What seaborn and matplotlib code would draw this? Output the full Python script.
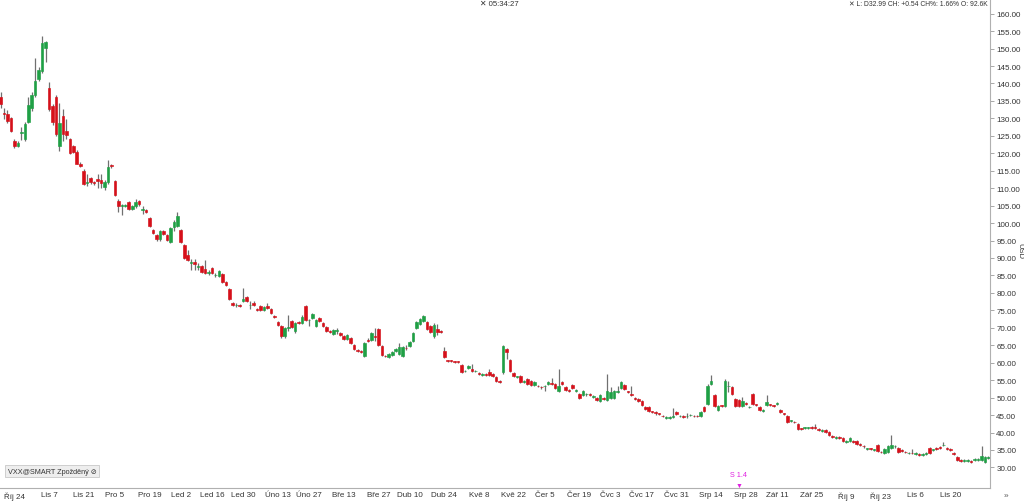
import numpy as np
import pandas as pd
import matplotlib
matplotlib.use("Agg")
import matplotlib.pyplot as plt
import seaborn as sns

# ---------------- data ----------------
opens = [136.1,131.5,131.3,130.0,123.6,122.1,125.8,124.1,129.0,133.0,136.7,141.3,143.6,150.2,138.7,133.6,136.1,122.1,130.7,126.4,124.1,122.1,120.4,117.0,115.0,
 111.4,112.9,111.7,112.6,112.3,110.3,111.7,116.6,112.0,106.3,105.0,105.0,106.0,104.0,105.0,106.3,103.8,103.7,101.4,98.0,96.6,95.4,97.7,
 96.6,94.6,98.8,99.2,98.0,93.7,90.9,88.7,88.9,87.4,87.7,86.8,85.6,87.1,85.0,84.8,85.4,83.1,81.1,77.1,76.4,76.5,77.7,
 78.8,76.4,77.1,75.4,76.2,75.0,76.2,75.3,73.4,71.7,70.5,67.7,69.9,72.0,69.0,71.7,71.4,76.2,72.1,72.8,70.5,72.8,71.4,
 70.2,69.0,68.2,69.2,68.5,67.6,66.8,67.1,65.1,63.5,63.2,61.9,66.5,66.5,67.5,69.6,64.8,62.0,61.6,62.2,63.4,62.5,61.9,
 64.3,64.8,66.2,70.0,71.1,72.0,71.7,70.5,67.7,69.6,69.1,63.4,60.6,60.6,60.3,60.3,59.3,57.5,58.5,58.1,57.5,57.1,56.5,
 56.8,57.3,56.8,55.9,54.6,57.3,63.9,60.8,57.0,55.8,56.2,54.4,55.3,54.8,53.6,53.4,53.1,53.2,53.9,54.0,53.9,51.9,54.5,
 53.0,52.2,53.5,51.9,50.9,50.7,50.9,51.0,50.2,50.0,49.0,50.0,49.2,50.0,50.0,51.5,52.8,53.6,51.7,51.0,50.0,49.5,49.0,
 47.3,47.3,46.0,45.7,45.4,44.8,44.1,44.1,44.4,45.9,44.6,44.6,44.6,44.9,44.8,44.8,44.7,47.3,48.2,53.9,50.7,46.5,47.7,
 47.6,53.2,53.0,49.5,49.2,47.6,48.3,47.2,50.9,48.0,47.3,46.1,47.9,48.0,47.7,48.3,46.5,45.4,44.7,43.2,43.1,42.4,41.1,
 41.2,41.2,41.6,41.4,40.9,40.4,40.8,40.2,39.1,38.5,38.7,38.3,37.4,37.5,37.6,37.5,36.7,36.2,35.2,35.4,34.9,36.4,34.5,
 34.1,34.4,35.5,36.0,35.5,35.0,34.5,34.0,34.2,33.9,33.7,33.6,33.9,35.6,34.9,35.5,35.8,36.3,35.6,35.3,34.1,33.0,32.1,31.9,31.9,31.7,32.1,32.0,32.2,31.6,32.7]
closes = [134.1,131.2,129.3,126.4,122.1,123.0,126.2,128.4,133.8,136.7,140.7,143.9,151.6,151.9,132.7,129.0,125.5,128.7,125.5,125.2,120.1,120.4,117.0,116.4,111.2,
 111.7,111.7,111.4,112.0,111.4,111.7,116.1,116.3,108.0,104.9,105.3,105.3,104.0,105.0,106.0,105.5,104.0,103.2,99.1,97.1,95.4,97.7,96.8,
 95.1,98.5,100.3,102.0,94.6,90.0,89.5,88.9,88.3,87.7,86.0,85.7,85.8,85.7,85.2,86.2,83.1,82.2,78.3,76.5,76.6,76.2,78.3,
 77.7,76.6,76.5,75.2,75.0,76.0,75.6,74.2,73.0,70.8,67.7,70.0,70.1,70.2,71.4,71.4,73.1,72.2,72.3,73.9,72.2,72.0,70.5,
 69.0,68.8,69.3,69.4,67.9,66.8,67.9,65.6,63.9,63.3,63.0,65.6,66.2,68.5,67.3,65.1,62.2,61.8,62.5,63.1,63.9,64.5,64.5,
 64.1,66.0,68.5,71.7,72.5,73.4,69.7,68.8,70.8,68.8,68.9,61.6,60.4,60.4,60.1,60.1,57.3,57.7,59.0,57.6,57.7,56.9,56.8,
 56.5,56.5,56.2,54.8,54.4,64.8,63.1,57.6,56.2,56.0,54.5,54.6,53.9,53.6,54.5,53.2,52.9,53.4,54.5,53.8,52.8,53.3,53.9,
 52.2,51.9,52.8,52.1,50.0,51.9,51.1,50.8,50.4,49.2,50.7,49.5,51.9,51.6,51.9,51.7,54.5,52.5,51.5,50.8,49.5,49.0,47.9,
 46.7,46.2,45.8,45.5,45.2,44.6,44.3,44.3,44.6,45.3,44.8,44.4,44.8,45.1,44.6,44.6,45.9,46.2,53.3,54.8,47.6,47.6,47.5,
 54.8,53.4,51.0,47.6,47.6,49.0,48.1,47.4,48.2,47.8,46.5,46.3,48.7,47.8,47.5,48.5,45.9,45.2,43.0,43.4,42.9,41.0,40.9,
 41.4,41.4,41.4,41.2,40.7,40.6,40.2,39.3,38.8,38.7,38.5,37.5,37.6,38.3,37.4,36.6,36.5,36.0,35.4,35.2,35.1,34.7,34.3,
 35.3,36.0,36.4,36.2,34.4,34.8,34.3,34.2,34.0,34.1,33.5,33.8,34.1,34.1,35.1,35.2,35.6,36.5,35.4,34.9,33.9,32.2,31.9,32.1,32.1,31.5,32.3,32.4,33.4,33.0,32.99]
highs = [137.5,133.0,132.5,130.5,124.2,123.5,127.5,129.0,136.0,137.5,147.3,144.6,153.7,152.2,140.4,134.0,136.6,134.4,132.8,129.7,124.5,122.5,121.0,117.4,115.5,
 114.0,113.3,112.0,114.0,114.0,112.3,118.0,117.0,112.3,106.8,105.6,105.6,106.3,105.3,107.0,106.7,104.8,104.0,101.8,98.3,97.0,98.0,98.0,
 97.0,99.0,101.0,103.2,98.3,94.0,92.4,89.8,89.8,88.7,88.0,89.3,86.7,87.4,85.6,86.5,85.7,83.4,81.4,77.4,77.0,76.8,81.4,
 79.2,77.8,77.8,75.8,76.5,76.3,77.1,75.6,73.7,72.0,70.8,70.3,73.7,72.3,71.7,72.0,73.7,76.5,72.6,74.2,72.5,73.1,71.7,
 70.5,69.3,69.6,70.0,68.8,67.9,68.2,67.4,65.4,63.8,63.5,66.0,67.2,68.8,70.0,69.9,65.1,62.3,62.8,63.4,64.2,65.5,64.8,
 65.0,66.3,68.8,72.0,72.8,73.7,72.0,70.8,71.4,71.0,69.4,64.5,60.9,60.9,60.6,60.6,59.6,58.0,59.3,59.5,58.0,57.4,57.1,
 57.1,58.2,57.1,56.2,54.9,65.1,64.2,61.1,57.3,56.3,56.5,54.9,55.6,55.1,54.8,53.7,53.4,53.7,54.8,55.5,54.2,58.1,54.8,
 53.3,52.5,53.8,52.4,51.2,52.2,51.4,51.3,50.7,50.3,51.0,50.3,56.8,53.0,52.2,53.2,54.8,53.9,52.0,53.2,50.3,49.8,49.3,
 47.6,47.6,46.3,46.3,45.7,45.1,44.6,44.6,47.0,46.3,45.1,44.9,45.5,45.4,45.1,45.1,46.2,47.6,53.8,56.5,51.0,47.9,48.0,
 55.3,54.8,53.3,49.8,49.5,50.1,48.6,47.7,51.2,48.3,47.6,46.6,50.8,48.3,48.0,48.8,46.8,45.7,45.0,43.7,43.4,42.7,41.4,
 41.7,41.7,41.9,42.5,41.2,40.9,41.1,40.5,39.4,39.0,39.0,38.6,37.9,38.6,37.9,37.8,37.0,36.5,35.7,35.7,35.4,36.7,34.8,
 35.6,36.3,39.2,36.5,35.8,35.3,34.8,34.5,35.2,34.4,34.0,34.1,34.4,35.9,35.4,35.8,36.1,37.2,35.9,35.6,34.4,33.3,32.4,32.4,32.4,32.0,32.6,32.7,36.0,33.3,33.2]
lows = [133.0,129.8,128.8,126.0,121.5,121.8,123.8,123.5,128.8,132.0,136.0,140.6,143.0,146.2,132.0,128.2,125.0,120.6,123.5,124.0,119.8,120.0,116.8,116.0,111.0,
 110.6,111.2,111.0,110.0,110.0,109.6,111.2,115.8,107.8,103.3,102.3,104.7,103.7,103.8,104.4,105.0,102.5,102.8,98.8,96.8,95.0,95.0,96.5,
 94.8,94.3,97.8,98.8,94.3,89.7,89.0,86.6,86.6,86.6,85.7,85.4,85.0,85.4,84.6,84.5,82.9,82.0,78.0,76.2,76.0,75.9,77.4,
 77.4,75.3,76.2,74.9,74.8,74.8,75.3,73.9,72.8,70.5,67.2,67.2,69.2,69.9,68.5,71.1,71.1,71.9,70.5,72.5,70.2,71.7,70.2,
 68.8,68.5,67.9,68.2,67.6,66.5,66.5,65.3,63.6,63.0,62.7,61.5,66.0,66.2,66.3,64.8,61.9,61.5,61.3,61.9,63.1,62.2,61.6,
 63.6,64.5,65.9,69.7,70.8,71.7,69.4,68.5,67.2,68.0,68.6,61.3,60.1,60.1,59.8,59.8,57.0,57.2,58.2,57.3,57.2,56.6,56.2,
 56.2,56.2,55.9,54.5,54.1,56.8,61.0,57.3,55.9,55.5,54.2,54.1,53.6,53.3,53.3,52.9,52.6,51.8,53.6,53.5,52.5,51.6,53.6,
 51.9,51.6,52.5,51.6,49.7,50.4,50.6,50.5,49.9,48.9,48.7,49.2,48.9,49.7,49.7,51.2,52.5,52.2,51.2,50.5,49.2,48.7,47.6,
 46.4,45.9,45.5,45.1,44.9,44.3,43.8,43.8,44.1,45.0,44.3,44.1,44.1,44.6,44.3,44.3,44.4,45.9,47.9,53.6,47.3,46.2,47.2,
 47.3,51.5,50.7,47.3,47.3,47.3,47.8,46.9,47.9,47.5,46.2,45.8,47.6,47.5,47.2,48.0,45.6,44.9,42.7,42.9,42.6,40.7,40.6,
 40.9,40.9,41.1,40.9,40.4,40.1,39.9,39.0,38.5,38.2,38.2,37.2,37.1,37.2,37.1,36.3,36.2,35.7,34.9,34.9,34.6,34.4,34.0,
 33.8,34.1,35.2,35.7,34.1,34.5,34.0,33.7,33.7,33.6,33.2,33.3,33.6,33.8,34.6,34.9,35.3,36.0,35.1,34.6,33.6,31.9,31.6,31.6,31.6,31.2,31.8,31.7,31.9,31.3,32.4]

start_date = "2022-10-18"
market_holidays = ["2022-11-24", "2022-12-26", "2023-01-02", "2023-01-16", "2023-02-20",
                   "2023-04-07", "2023-05-29", "2023-06-19", "2023-07-04", "2023-09-04",
                   "2023-11-23"]
month_cz = {1: "Led", 2: "Úno", 3: "Bře", 4: "Dub", 5: "Kvě", 6: "Čer",
            7: "Čvc", 8: "Srp", 9: "Zář", 10: "Říj", 11: "Lis", 12: "Pro"}
first_label = "2022-10-24"
last_label = "2023-11-20"
label_step_days = 14
y_ticks = list(range(30, 161, 5))

# ---------------- build table ----------------
n = len(closes)
bday = pd.offsets.CustomBusinessDay(holidays=market_holidays)
dates = pd.date_range(start_date, periods=n, freq=bday)
df = pd.DataFrame({"date": dates, "open": opens, "high": highs, "low": lows, "close": closes})
df["idx"] = np.arange(n)
df["up"] = df["close"] >= df["open"]

# ---------------- figure ----------------
sns.set_style("white")
plt.rcParams["font.family"] = ["Liberation Sans", "DejaVu Sans"]

fig = plt.figure(figsize=(10.24, 5.02), dpi=100)
ax = fig.add_axes([0.0, 13 / 502, 990 / 1024, 489 / 502])

green = "#1fa045"
red = "#d6101a"
wick = "#707070"

ax.vlines(df["idx"], df["low"], df["high"], color=wick, linewidth=0.9, zorder=1)
body_h = (df["close"] - df["open"]).abs().clip(lower=0.25)
body_b = df[["open", "close"]].min(axis=1)
colors = np.where(df["up"], green, red)
ax.bar(df["idx"], body_h, bottom=body_b, width=0.74, color=colors,
       edgecolor=colors, linewidth=0.45, zorder=2)

ax.set_xlim(-0.15, n - 0.55)
ax.set_ylim(24.1, 164.2)

# y axis on the right
ax.yaxis.tick_right()
ax.set_yticks(y_ticks)
ax.set_yticklabels([f"{v:.2f}" for v in y_ticks])
ax.tick_params(axis="y", direction="out", length=3, width=0.6, colors="#9a9a9a",
               labelsize=5.8, labelcolor="#333333", pad=1.5)

# x ticks: every 2 weeks, placed on the first trading day on/after the date
label_dates = pd.date_range(first_label, last_label, freq=f"{label_step_days}D")
xt, xl = [], []
for d in label_dates:
    pos = int(np.searchsorted(dates.values, np.datetime64(d)))
    if pos < n:
        xt.append(pos)
        xl.append(f"{month_cz[d.month]} {d.day}")
ax.set_xticks(xt)
ax.set_xticklabels(xl)
ax.tick_params(axis="x", direction="out", length=1.5, width=0.6, colors="#9a9a9a",
               labelsize=5.8, labelcolor="#333333", pad=0.8)

for s in ["top", "left"]:
    ax.spines[s].set_visible(False)
for s in ["right", "bottom"]:
    ax.spines[s].set_color("#b0b0b0")
    ax.spines[s].set_linewidth(0.8)

# annotations
fig.text(480 / 1024, 1 - 5 / 502, "✕ 05:34:27", fontsize=5.6, color="#333333",
         ha="left", va="center")
fig.text(849 / 1024, 1 - 5 / 502, "✕ L: D32.99 CH: +0.54 CH%: 1.66% O: 92.6K",
         fontsize=4.9, color="#333333", ha="left", va="center")
fig.text(8 / 1024, 1 - 472 / 502, "VXX@SMART Zpožděný ⊘", fontsize=5.2, color="#333333",
         ha="left", va="center",
         bbox=dict(boxstyle="square,pad=0.35", facecolor="#eeeeee", edgecolor="#c8c8c8", linewidth=0.6))
fig.text(739 / 1024, 1 - 476 / 502, "S 1.4", fontsize=5.2, color="#e020e0",
         ha="center", va="center")
fig.text(739 / 1024, 1 - 486 / 502, "▼", fontsize=5, color="#e020e0",
         ha="center", va="center")
fig.text(1020 / 1024, 0.5, "USD", fontsize=5.5, color="#333333", rotation=270,
         ha="center", va="center")
fig.text(1006 / 1024, 1 - 497 / 502, "»", fontsize=6, color="#555555", ha="center", va="center")

fig.savefig("out.png", dpi=100, facecolor="white")
